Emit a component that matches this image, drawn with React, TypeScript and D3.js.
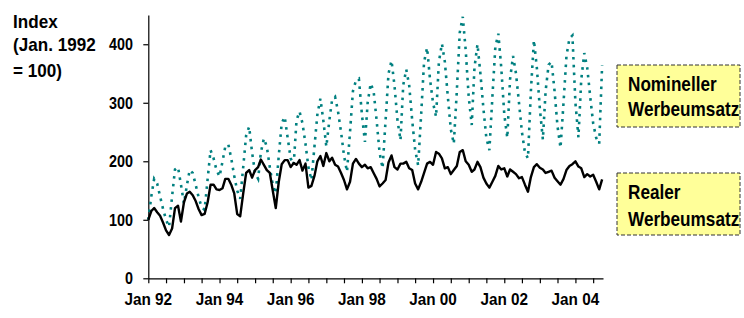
import React, { useEffect, useRef } from 'react';
import * as d3 from 'd3';

// monthly index values, Jan 1992 = 100, one row per year
const nominal = [
  100, 140, 170, 162, 140, 118, 100, 88, 140, 186, 190, 160,
  128, 160, 185, 180, 160, 138, 122, 117, 170, 219, 205, 185,
  174, 200, 225, 229, 205, 175, 150, 136, 190, 244, 259, 215,
  180, 170, 215, 239, 225, 190, 160, 145, 210, 265, 276, 240,
  205, 194, 270, 285, 265, 230, 190, 168, 225, 280, 307, 270,
  225, 270, 305, 310, 285, 250, 210, 182, 250, 320, 338, 341,
  280, 233, 300, 333, 320, 270, 215, 188, 270, 350, 372, 330,
  270, 236, 330, 357, 330, 270, 220, 193, 280, 370, 394, 340,
  300, 276, 370, 401, 370, 310, 255, 230, 320, 420, 447, 390,
  310, 262, 360, 400, 350, 290, 240, 219, 310, 395, 418, 360,
  280, 240, 340, 380, 350, 300, 250, 215, 205, 320, 407, 360,
  290, 237, 320, 365, 370, 320, 260, 223, 300, 380, 410, 415,
  300, 241, 340, 385, 360, 310, 265, 240, 230, 364
];

const real = [
  100, 115, 120, 113, 107, 95, 82, 74, 85, 120, 124, 97,
  130, 145, 148, 142, 132, 118, 108, 110, 130, 160, 160, 152,
  151, 154, 170, 170, 160, 145, 110, 106, 145, 180, 185, 172,
  185, 190, 203, 194, 185, 180, 150, 120, 165, 195, 202, 202,
  190, 197, 194, 202, 184, 196, 155, 158, 175, 200, 209, 192,
  214, 200, 206, 194, 191, 180, 168, 152, 165, 196, 204, 196,
  190, 194, 188, 190, 180, 170, 157, 162, 168, 198, 210, 190,
  186, 196, 196, 199, 188, 185, 162, 152, 165, 180, 196, 199,
  194, 216, 213, 205, 188, 190, 178, 185, 192, 216, 219, 200,
  194, 182, 186, 199, 190, 172, 162, 155, 165, 175, 192, 186,
  188, 174, 186, 182, 178, 171, 173, 160, 148, 173, 190, 195,
  189, 186, 180, 182, 184, 172, 166, 160, 170, 185, 192, 195,
  200, 191, 188, 173, 178, 174, 177, 165, 152, 169
];

const yTicks = [0, 100, 200, 300, 400];
const xLabelYears = [1992, 1994, 1996, 1998, 2000, 2002, 2004];
const yTitle = ['Index', '(Jan. 1992', '= 100)'];
const legendNominal = ['Nomineller', 'Werbeumsatz'];
const legendReal = ['Realer', 'Werbeumsatz'];

const font = '"Liberation Sans", Arial, sans-serif';

export default function App() {
  const ref = useRef<SVGSVGElement>(null);

  useEffect(() => {
    const svg = d3.select(ref.current);
    svg.selectAll('*').remove();

    const x = d3.scaleTime()
      .domain([new Date(1992, 0, 1), new Date(2004, 9, 10)])
      .range([148.3, 603]);
    const y = d3.scaleLinear().domain([0, 450]).range([278.3, 15]);
    const dateOf = (i: number) => new Date(1992, i, 1);

    // squeezed bold text, like the original export
    const label = (str: string, tx: number, ty: number, size: number, sx: number, anchor: string) => {
      svg.append('text')
        .attr('transform', `translate(${tx},${ty}) scale(${sx},1)`)
        .attr('text-anchor', anchor)
        .style('font-family', font)
        .style('font-weight', 'bold')
        .style('font-size', size + 'px')
        .attr('fill', '#000')
        .text(str);
    };

    // y axis
    const yAxis = svg.append('g')
      .attr('transform', 'translate(148.3,0)')
      .call(d3.axisLeft(y).tickValues(yTicks).tickSize(5).tickSizeOuter(0).tickFormat(() => ''));
    yAxis.selectAll('path,line').attr('stroke', '#000').attr('stroke-width', 1.2);
    yTicks.forEach(v => label(String(v), 133, y(v) + 5.8, 16.3, 0.88, 'end'));

    // x axis
    const xAxis = svg.append('g')
      .attr('transform', 'translate(0,278.3)')
      .call(d3.axisBottom(x).ticks(d3.timeMonth.every(6)).tickSize(5).tickSizeOuter(0).tickFormat(() => ''));
    xAxis.selectAll('path,line').attr('stroke', '#000').attr('stroke-width', 1.2);
    xLabelYears.forEach(yr => {
      label('Jan ' + String(yr).slice(2), x(new Date(yr, 0, 1)), 305, 17, 0.9, 'middle');
    });

    yTitle.forEach((t, i) => label(t, 13, [28, 50.5, 77][i], 18, 0.95, 'start'));

    const line = d3.line<number>()
      .x((d, i) => x(dateOf(i)))
      .y(d => y(d));

    svg.append('path')
      .datum(nominal)
      .attr('d', line)
      .attr('fill', 'none')
      .attr('stroke', '#008080')
      .attr('stroke-width', 2.6)
      .attr('stroke-dasharray', '2.6,5.2');

    svg.append('path')
      .datum(real)
      .attr('d', line)
      .attr('fill', 'none')
      .attr('stroke', '#000')
      .attr('stroke-width', 2.4)
      .attr('stroke-linejoin', 'round');

    // legend boxes
    const boxes = [
      { lines: legendNominal, top: 65, base: [91, 116] },
      { lines: legendReal, top: 173, base: [199, 225.5] }
    ];
    boxes.forEach(b => {
      svg.append('rect')
        .attr('x', 617).attr('y', b.top)
        .attr('width', 123).attr('height', 62)
        .attr('fill', '#ffff99')
        .attr('stroke', '#333')
        .attr('stroke-width', 1)
        .attr('stroke-dasharray', '4,2');
      b.lines.forEach((t, i) => label(t, 628, b.base[i], 19.5, 0.88, 'start'));
    });
  }, []);

  return (
    <div>
      <style>{'body{margin:0}'}</style>
      <svg ref={ref} width={744} height={318} style={{ display: 'block', background: '#fff' }} />
    </div>
  );
}
